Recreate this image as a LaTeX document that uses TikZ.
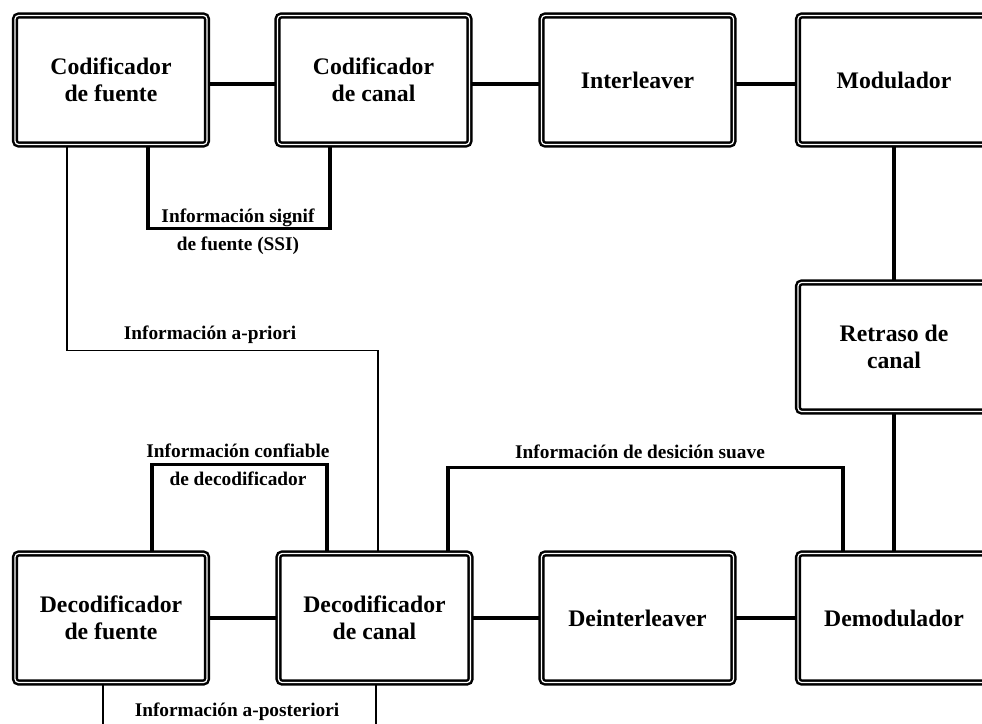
\documentclass[tikz,border=0pt]{standalone}
\usepackage{fontspec}
\setmainfont{Liberation Serif}
\usetikzlibrary{calc}

\begin{document}
\begin{tikzpicture}[x=0.02cm,y=-0.02cm,
    bloque/.style={draw,double,double distance=0.7pt,line width=1.4pt,rounded corners=2pt,
      minimum width=3.84cm,minimum height=2.58cm,align=center,inner sep=0pt,
      font=\bfseries\fontsize{13.5}{15.5}\selectfont},
    etiq/.style={align=center,inner sep=0pt,font=\bfseries\fontsize{11}{16}\selectfont},
    enlace/.style={line width=2.1pt},
    grueso/.style={line width=1.8pt},
    fino/.style={line width=0.7pt}]
\def\desp{4}
\useasboundingbox (0,0) rectangle (982,723);
\clip (0,0) rectangle (982,723);
  % fila de arriba
  \node[bloque] (cf) at (111,80)   {Codificador\\de fuente};
  \node[bloque] (cc) at (373.5,80) {Codificador\\de canal};
  \node[bloque] (il) at (637.5,80) {Interleaver};
  \node[bloque] (mo) at (894,80)   {Modulador};
  \node[bloque] (rc) at (894,347)  {Retraso de\\canal};
  % fila de abajo
  \node[bloque] (df) at (111,618)   {Decodificador\\de fuente};
  \node[bloque] (dc) at (374.5,618) {Decodificador\\de canal};
  \node[bloque] (di) at (637.5,618) {Deinterleaver};
  \node[bloque] (dm) at (894,618)   {Demodulador};

  \draw[enlace] ($(cf.east)+(0,\desp)$) -- ($(cc.west)+(0,\desp)$)
                ($(cc.east)+(0,\desp)$) -- ($(il.west)+(0,\desp)$)
                ($(il.east)+(0,\desp)$) -- ($(mo.west)+(0,\desp)$)
                (mo) -- (rc)
                (rc) -- (dm)
                (df) -- (dc)
                (dc) -- (di)
                (di) -- (dm);

  \draw[grueso] ($(cf.south)+(37,0)$) -- ++(0,83) -| ($(cc.south)+(-43.5,0)$);
  \draw[grueso] ($(df.north)+(41,0)$) -- ++(0,-88) -| ($(dc.north)+(-47.5,0)$);
  \draw[grueso] ($(dc.north)+(73.5,0)$) -- ++(0,-85) -| ($(dm.north)+(-51,0)$);
  \draw[fino]   ($(cf.south)+(-44,0)$) -- ++(0,205) -| ($(dc.north)+(3.5,0)$);
  \draw[fino]   ($(df.south)+(-8,0)$) -- ++(0,60) -| ($(dc.south)+(1.5,0)$);

  \node[etiq] (ssi)  at (238,232) {Información signif\\de fuente (SSI)};
  \node[etiq] (apr)  at (210,335) {Información a-priori};
  \node[etiq] (conf) at (238,465) {Información confiable\\de decodificador};
  \node[etiq] (suav) at (640,452) {Información de desición suave};
  \node[etiq] (apos) at (237,712) {Información a-posteriori};
\end{tikzpicture}
\end{document}
